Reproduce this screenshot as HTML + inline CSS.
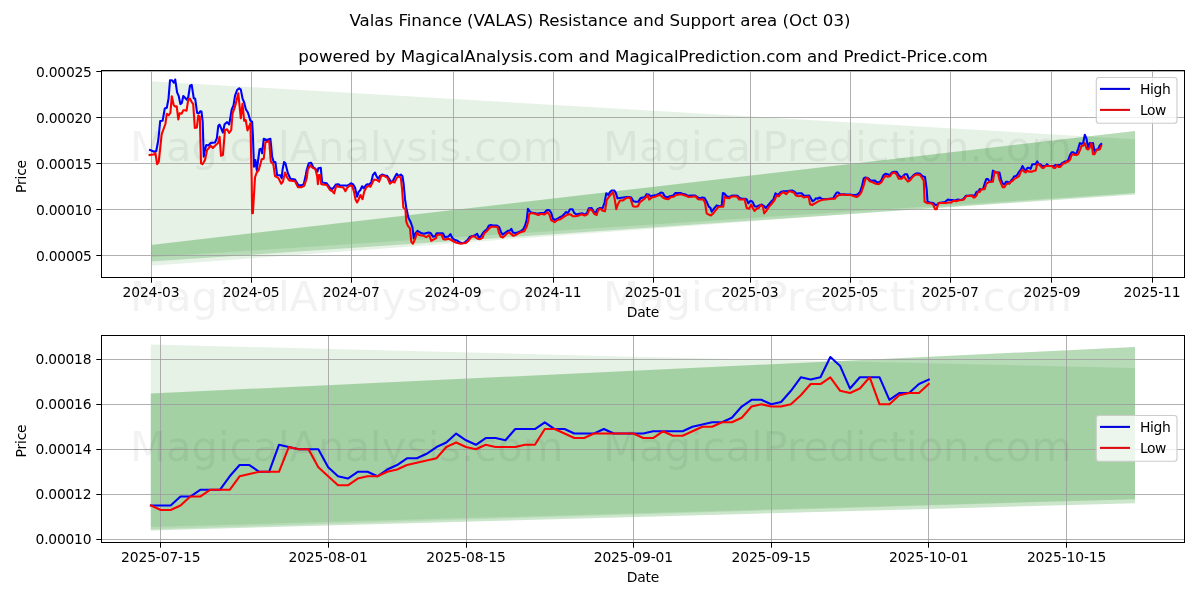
<!DOCTYPE html>
<html lang="en"><head><meta charset="utf-8"><title>Valas Finance (VALAS) Resistance and Support area</title>
<style>html,body{margin:0;padding:0;background:#fff;overflow:hidden}svg{display:block}</style></head><body>
<svg width="1200" height="600" viewBox="0 0 1200 600" font-family="'DejaVu Sans','Liberation Sans',sans-serif">
<rect width="1200" height="600" fill="#fff"/>
<g font-size="41.67" fill="#000" fill-opacity="0.052">
<text x="130.0" y="311">MagicalAnalysis.com</text>
<text x="603.1" y="311">MagicalPrediction.com</text>
</g>
<text x="600" y="25.6" font-size="16.67" text-anchor="middle" textLength="500.9">Valas Finance (VALAS) Resistance and Support area (Oct 03)</text>
<text x="643" y="61.8" font-size="16.67" text-anchor="middle" textLength="689.4">powered by MagicalAnalysis.com and MagicalPrediction.com and Predict-Price.com</text>
<clipPath id="c1"><rect x="101.5" y="70.5" width="1083.0" height="207.0"/></clipPath>
<g clip-path="url(#c1)">
<polygon points="151,81.2 1135,139.2 1135,193 151,265.7" fill="#008000" fill-opacity="0.1"/>
<polygon points="151,245 1135,131 1135,194.6 151,261.6" fill="#008000" fill-opacity="0.2"/>
<polygon points="151,245 1135,131 1135,193 151,257.2" fill="#008000" fill-opacity="0.1"/>
</g>
<g stroke="#9c9c9c" stroke-opacity="0.8" stroke-width="1" fill="none">
<line x1="151.5" y1="70.5" x2="151.5" y2="277.5"/>
<line x1="251.5" y1="70.5" x2="251.5" y2="277.5"/>
<line x1="351.5" y1="70.5" x2="351.5" y2="277.5"/>
<line x1="453.5" y1="70.5" x2="453.5" y2="277.5"/>
<line x1="553.5" y1="70.5" x2="553.5" y2="277.5"/>
<line x1="653.5" y1="70.5" x2="653.5" y2="277.5"/>
<line x1="750.5" y1="70.5" x2="750.5" y2="277.5"/>
<line x1="850.5" y1="70.5" x2="850.5" y2="277.5"/>
<line x1="950.5" y1="70.5" x2="950.5" y2="277.5"/>
<line x1="1051.5" y1="70.5" x2="1051.5" y2="277.5"/>
<line x1="1152.5" y1="70.5" x2="1152.5" y2="277.5"/>
<line x1="101.5" y1="255.5" x2="1184.5" y2="255.5"/>
<line x1="101.5" y1="209.5" x2="1184.5" y2="209.5"/>
<line x1="101.5" y1="163.5" x2="1184.5" y2="163.5"/>
<line x1="101.5" y1="117.5" x2="1184.5" y2="117.5"/>
<line x1="101.5" y1="71.5" x2="1184.5" y2="71.5"/>
</g>
<g stroke="#000" stroke-width="1">
<line x1="151.5" y1="277.5" x2="151.5" y2="282.7"/>
<line x1="251.5" y1="277.5" x2="251.5" y2="282.7"/>
<line x1="351.5" y1="277.5" x2="351.5" y2="282.7"/>
<line x1="453.5" y1="277.5" x2="453.5" y2="282.7"/>
<line x1="553.5" y1="277.5" x2="553.5" y2="282.7"/>
<line x1="653.5" y1="277.5" x2="653.5" y2="282.7"/>
<line x1="750.5" y1="277.5" x2="750.5" y2="282.7"/>
<line x1="850.5" y1="277.5" x2="850.5" y2="282.7"/>
<line x1="950.5" y1="277.5" x2="950.5" y2="282.7"/>
<line x1="1051.5" y1="277.5" x2="1051.5" y2="282.7"/>
<line x1="1152.5" y1="277.5" x2="1152.5" y2="282.7"/>
<line x1="96.3" y1="255.5" x2="101.5" y2="255.5"/>
<line x1="96.3" y1="209.5" x2="101.5" y2="209.5"/>
<line x1="96.3" y1="163.5" x2="101.5" y2="163.5"/>
<line x1="96.3" y1="117.5" x2="101.5" y2="117.5"/>
<line x1="96.3" y1="71.5" x2="101.5" y2="71.5"/>
</g>
<g clip-path="url(#c1)" fill="none" stroke-width="2.08" stroke-linejoin="round" stroke-linecap="square">
<polyline stroke="#0000ff" points="150,150 154.2,151.7 156.25,151 158.3,140 160.2,121 162.6,120.8 164.8,108.4 166.8,107.7 168.5,98.7 170,80.3 171.8,80.2 173.75,82.7 175.2,79.5 177.1,92.4 178.75,96.2 180.4,104.1 181.8,103 183.3,96 185,97.8 186.8,99.7 188.3,97 190,85.75 191.7,84.9 193.75,98.25 195.2,98.8 197.1,112.8 198.75,113.4 200.2,111.3 201.5,111.6 202.7,122 203.75,156.7 204.6,151.7 206.25,145 208.3,145.4 210.8,142.9 215,142.5 216.8,138.3 218.3,125.8 219.6,124.6 222.9,132.5 224.6,124.2 227.1,122.1 229.2,124.5 230.8,115 231.7,109.5 233.5,105.3 235,95.8 237.1,90 239.2,88.3 240.8,89.6 242.5,98.3 244.2,102.5 245.8,109.2 247.9,112.5 250.4,120.8 252.1,121.7 252.9,135 254,166.7 255.4,160 256.8,170 259.6,149.2 261.25,148.75 262.1,153.3 263.75,138.75 266.7,140 270.4,138.75 272.1,156.7 273.75,162.1 275.4,162.1 277.1,175 280.4,175.4 281.7,178.3 282.5,170 284,162.1 285.4,163.3 287.9,173.3 290.4,178.75 295,179.6 298.3,185 301.7,185.4 303.75,184.2 305.8,175 306.7,170 308.75,163.3 311.25,162.9 313.3,167.5 315.4,168.75 317.5,171.7 318.3,168.3 320.8,167.9 322.1,182.5 326.7,183.3 330,187.9 332.08,189.17 333.75,187.5 335.83,184.58 338.33,184.17 340.42,185.83 342.5,185.42 345,185.42 346.67,185.83 348.75,185 350.83,183.33 352.92,184.17 355,187.5 357.08,196.67 358.75,191.67 360.42,190 362.08,186.25 363.75,188.33 365.42,185.83 367.08,184.17 369.17,184.58 371.25,182.08 372.92,175 375,172.5 376.67,176.67 378.33,178.75 380,175.83 382.08,174.58 385,175.42 387.08,175.83 389.17,178.75 390.83,182.08 392.92,180.83 395,176.67 396.67,173.75 398.33,175.83 400.83,174.58 402.5,176.25 403.75,185 405,199.17 406.25,207.5 408.33,217.5 410.83,222.5 412.5,227.5 413.75,238.33 415.42,233.33 417.5,230.83 419.58,232.08 421.67,233.33 424.17,233.75 426.67,232.92 428.75,232.5 430.83,233.33 432.92,236.67 435,236.25 436.67,233.33 439.17,233.33 442.92,233.33 445,237.5 446.67,236.67 448.33,236.67 450.42,234.17 452.5,238.33 455,240 457.5,240.83 460,242.5 462.5,243.33 465,242.08 467.5,240 469.58,237.08 471.67,236.25 473.75,235.83 475.42,235 477.08,233.75 479.17,237.92 481.25,235.83 482.92,232.92 485,230.83 487.08,229.17 488.75,225.83 490.83,225 493.33,225.42 496.67,225.42 499.17,227.08 500.83,231.67 502.5,234.58 505,232.92 507.92,230.83 510,230.42 511.25,228.75 512.92,232.5 515,232.92 517.5,232.5 520.83,231.25 523.33,229.17 525,225.83 526.67,220 527.92,208.75 529.58,211.25 531.25,212.5 534.17,212.92 537.5,213.75 540.83,212.92 544.17,212.92 547.08,210 549.17,210 551.25,212.92 552.92,218.75 555,220 557.5,218.75 560,217.08 562.5,215.83 564.58,213.75 565.83,212.08 567.92,212.92 570,209.17 572.5,209.17 574.17,212.92 576.67,214.58 579.17,213.75 582.5,213.33 585,214.58 587.08,212.92 588.75,208.33 591.67,207.92 593.75,211.67 595.42,213.33 597.5,209.17 600,207.92 602.5,208.33 604.58,202.5 606.25,193.33 608.33,195 610,192.08 611.67,190.42 614.17,190.42 615.83,192.92 617.5,198.33 620,197.92 623.33,197.5 626.67,197.08 629.17,197.08 631.25,197.5 633.33,201.25 635.83,201.67 638.33,201.67 640.42,198.33 642.5,197.5 644.58,197.5 646.67,194.17 648.75,194.58 650.83,196.25 653.33,195.42 656.67,195 659.17,193.75 660.83,192.5 662.92,192.92 664.58,196.25 667.08,197.5 670,196.25 673.33,195.42 675.42,192.92 677.92,192.92 680.42,192.92 682.5,193.75 685.83,194.58 688.33,195.83 691.67,195.42 695,195.42 697.5,197.08 700,198.33 702.5,197.5 704.58,197.92 706.67,201.67 708.75,206.67 710.42,207.92 711.67,211.67 714.17,208.33 716.67,205.42 719.17,206.25 721.67,205.83 722.92,192.92 724.58,193.75 726.67,196.25 729.17,197.08 731.25,195.83 734.17,195.42 737.5,195.83 739.58,197.92 742.08,198.75 745,198.75 746.67,199.17 748.33,203.33 750.42,200.83 752.5,201.67 754.58,206.25 756.67,206.67 759.17,205.42 761.67,204.58 763.75,205.83 765.83,207.92 768.33,205 770.83,202.08 773.33,199.58 775.42,193.33 777.5,194.58 778.75,194.17 780.83,192.08 783.33,191.25 786.67,191.25 789.17,190.83 792.08,190.42 794.58,191.67 796.67,193.75 799.17,193.33 801.67,193.33 803.75,195.42 806.25,195.83 809.17,195.42 810.83,198.33 812.5,201.25 814.17,200.42 815.83,198.33 817.5,198.75 819.58,197.5 821.67,198.75 825,199.17 829.17,198.75 833.33,198.33 835,195 836.67,192.5 838.33,192.5 840.42,194.58 843.33,194.17 846.67,194.58 850,194.58 853.33,195 855.42,195 857.5,194.58 860,192.08 862.08,185.83 863.75,178.33 865.42,177.5 867.5,177.92 869.58,179.58 871.25,180.83 874.58,180.42 876.67,182.08 879.17,182.5 881.25,180.42 883.33,175.42 885.42,173.75 887.5,174.17 889.58,175.42 891.67,172.5 894.17,171.67 896.67,171.67 898.75,175.42 901.25,177.5 903.33,175.83 905,174.17 907.08,174.17 908.75,178.75 910.83,177.92 913.33,175.42 915.42,173.75 917.5,173.33 920,173.75 922.5,176.25 925,177.08 926.67,189.17 927.5,201.67 930,202.5 933.33,202.92 935.42,205 936.67,205 938.75,202.92 941.67,202.5 945,202.08 947.92,199.58 950,200 952.5,200 955,200.42 957.92,199.58 960.83,200 963.33,199.17 965.83,195.83 971.57,195.53 973.21,195.53 974.85,195.53 976.49,191.85 978.13,191.85 979.78,189.09 981.42,189.09 983.06,189.09 984.7,183.56 986.34,178.96 987.98,178.96 989.62,181.72 991.26,181.72 992.9,170.67 994.54,171.59 996.18,172.51 997.83,172.51 999.47,172.51 1001.11,179.88 1002.75,183.56 1004.39,184.48 1006.03,181.72 1007.67,181.72 1009.31,183.56 1010.95,180.8 1012.6,178.96 1014.24,176.19 1015.88,176.19 1017.52,174.35 1019.16,171.59 1020.8,169.75 1022.44,166.06 1024.08,168.83 1025.72,170.67 1027.36,167.91 1029.01,167.91 1030.65,168.83 1032.29,164.22 1033.93,164.22 1035.57,164.22 1037.21,161.46 1038.85,164.22 1040.49,164.22 1042.13,166.06 1043.77,166.06 1045.41,166.06 1047.06,164.22 1048.7,166.06 1050.34,166.06 1051.98,166.06 1053.62,166.06 1055.26,165.14 1056.9,165.14 1058.54,165.14 1060.18,165.14 1061.83,163.3 1063.47,162.38 1065.11,161.46 1066.75,161.46 1068.39,159.62 1070.03,155.01 1071.67,152.25 1073.31,152.25 1074.95,154.09 1076.59,153.17 1078.23,148.56 1079.88,143.04 1081.52,143.96 1083.16,143.04 1084.8,134.75 1086.44,138.43 1088.08,147.64 1089.72,143.04 1091.36,143.04 1093,143.04 1094.64,152.25 1096.29,149.49 1097.93,149.49 1099.57,145.8 1101.21,143.96"/>
<polyline stroke="#ff0000" points="149.6,155 154.6,154.2 155.4,152.9 157.1,164.2 158.75,161.7 161.7,134.2 165.4,124 166.8,113.7 168.75,115.3 170.4,112.8 171.8,96.2 173.75,105.3 175.4,106.6 176.7,106.2 178.3,119.5 179.6,113.25 181.7,113.7 183.2,110.3 184.8,110.3 186.5,110.75 188.3,99.5 190,98.7 191.7,102 193.2,104.1 194.8,127.9 196.8,127.5 198.3,115.5 199.8,116.5 201,163.3 202.5,164.2 205,160 207.1,150 210.8,145.8 212.9,147.9 215.8,145 217.9,143.3 219.6,136.7 221,155.8 222.9,155 225,130 227.1,129.2 229.2,132.9 231.25,130 232.5,113.7 235,106.7 238.3,93.3 240.8,118.3 242.5,103.75 244.2,120.8 245.7,120 247.5,130.4 250.4,123.3 251.7,180 252.1,213.3 252.9,213.3 255,177.5 256.7,172.5 258.75,170 261.7,159.2 263.75,158.75 265.4,142.5 269.2,140.8 270.8,161.7 273.3,164.2 275,176 278.3,177.9 281.25,183.75 282.9,181.7 285,172.5 287.1,177.5 289.2,180.4 295,181.25 297.9,187.1 301.7,187.1 304.2,185.8 306.7,178.3 307.9,169.2 310.4,165.4 312.9,167.9 315.4,169.2 317.1,176 317.9,184.2 318.75,175 320,175 321.25,184.2 326.7,185 330,190 332.5,191.25 334.17,193.33 336.25,185.83 338.33,186.67 340.42,187.08 343.33,187.5 345.42,191.25 347.08,187.92 349.58,185.42 352.08,185.83 353.75,190.83 355.42,199.17 357.08,202.5 358.75,199.17 360.42,195 362.5,199.17 364.17,191.67 366.25,187.5 368.33,185.83 370.42,186.67 372.5,182.5 374.17,179.58 376.67,180 379.17,181.67 381.25,175.83 383.33,175.42 385.42,176.67 387.5,177.92 390,183.75 392.5,181.67 394.58,182.5 396.67,177.92 399.17,176.25 400.83,177.92 402.08,189.17 403.33,207.5 405.42,209.17 406.25,221.67 407.92,225.83 410,228.33 411.25,241.67 412.92,243.75 415,239.17 417.08,232.92 419.17,235 421.67,235.42 423.75,235.83 426.25,237.08 429.17,235 431.25,240.83 433.33,239.58 435.83,238.33 437.08,235 439.17,234.58 441.67,235 443.33,239.17 445.83,239.58 448.33,238.75 450.42,239.58 453.33,241.25 455.83,242.5 458.33,243.33 460.83,243.75 463.33,243.33 465.83,242.92 468.33,240.83 470.42,237.92 472.5,236.25 475,236.67 477.5,238.75 480,239.17 482.5,237.92 484.17,233.33 486.67,231.25 489.17,228.33 491.25,226.67 494.17,226.67 497.5,227.08 499.17,233.33 500.83,236.67 502.92,237.5 505,235.42 507.5,232.92 509.58,232.5 511.25,234.17 513.33,235.83 515.83,235 518.33,233.33 521.25,232.08 524.17,231.25 526.67,226.67 528.33,220.83 529.17,214.17 531.67,212.92 535,213.75 538.33,215 541.25,213.75 544.17,214.58 547.5,212.08 549.58,215 551.25,220.42 554.58,222.08 557.5,220 560.42,219.17 563.33,217.08 566.25,215.42 568.75,214.17 570.83,214.58 572.92,216.25 575.83,216.25 578.75,215.42 581.67,214.17 584.58,215.42 587.5,214.17 589.58,209.17 591.67,210 594.17,213.75 596.67,215 598.33,210 600.42,208.75 602.92,210.83 605,211.25 606.67,200 608.75,197.08 610.83,194.58 612.92,192.08 614.58,198.33 616.25,209.17 617.92,204.17 620,200.42 622.92,200.42 625.83,198.33 628.33,197.5 630.42,198.33 632.92,206.25 635.42,206.67 637.92,206.25 640,202.08 643.33,199.58 645.83,197.5 647.5,195 649.17,199.58 651.67,197.5 655,196.67 657.92,195.42 660.42,195 662.92,197.5 665.42,198.75 668.33,199.17 670.83,197.08 673.75,196.67 676.25,195 679.17,194.58 682.08,194.58 685.83,195.83 688.75,197.08 692.08,196.67 695.42,196.25 697.92,199.17 700.42,199.58 702.92,199.17 705,202.5 706.67,213.33 708.75,214.58 710.83,215.42 713.33,213.33 715.83,210 718.33,207.08 720.83,206.67 723.33,206.67 724.58,196.67 726.67,197.92 729.17,198.33 731.25,196.67 734.58,196.25 737.08,196.67 739.17,199.58 742.08,199.58 744.58,199.17 746.67,207.92 749.17,208.75 751.25,204.58 752.92,208.33 754.58,210.83 756.67,208.75 758.75,207.92 760.83,205 762.92,206.67 764.17,213.33 766.25,210.83 768.75,207.08 771.67,203.75 774.58,200 776.67,195.42 778.75,196.25 780.83,193.75 783.33,192.08 786.25,194.17 788.75,191.25 791.67,191.67 793.75,192.5 795.83,195.42 798.75,196.25 801.25,195.83 803.75,197.5 806.67,196.67 808.75,197.08 810,204.17 812.08,205 815,203.33 817.92,201.67 820.42,200.42 824.17,199.58 828.33,199.17 832.5,198.75 835,198.75 836.67,196.25 839.17,195 842.5,194.58 846.67,195 850.83,195 854.17,196.25 856.67,197.08 859.17,195.42 861.25,192.5 863.33,186.67 865.42,179.17 867.08,177.92 869.58,181.25 872.08,182.08 875.83,183.75 878.75,184.17 881.25,182.5 883.33,178.75 885.42,175.83 887.92,176.67 890,176.25 892.08,173.33 894.58,172.5 896.67,174.58 898.75,178.75 901.67,178.75 903.75,176.25 905.83,179.17 907.92,181.67 910,180.42 912.5,177.08 915,175 917.5,174.58 920,175 922.08,177.92 923.75,180.83 924.58,201.67 927.5,203.33 930.83,203.33 932.92,204.17 935,209.17 936.67,209.17 938.33,203.33 941.67,202.92 945.42,202.92 948.75,202.5 951.25,202.5 953.33,200.83 956.25,201.25 958.33,200.42 961.25,200 963.75,199.58 966.25,196.25 971.57,195.53 973.21,197.38 974.85,197.38 976.49,195.53 978.13,191.85 979.78,191.85 981.42,189.09 983.06,189.09 984.7,189.09 986.34,183.56 987.98,182.64 989.62,181.72 991.26,181.72 992.9,181.72 994.54,171.59 996.18,172.51 997.83,172.51 999.47,179.88 1001.11,183.56 1002.75,187.25 1004.39,187.25 1006.03,184.48 1007.67,183.56 1009.31,183.56 1010.95,181.72 1012.6,180.8 1014.24,178.96 1015.88,178.04 1017.52,177.12 1019.16,176.19 1020.8,171.59 1022.44,169.75 1024.08,171.59 1025.72,172.51 1027.36,170.67 1029.01,171.59 1030.65,171.59 1032.29,171.59 1033.93,170.67 1035.57,170.67 1037.21,164.22 1038.85,164.22 1040.49,166.06 1042.13,167.91 1043.77,167.91 1045.41,166.06 1047.06,166.06 1048.7,166.06 1050.34,166.06 1051.98,166.06 1053.62,167.91 1055.26,167.91 1056.9,165.14 1058.54,166.98 1060.18,166.98 1061.83,165.14 1063.47,163.3 1065.11,163.3 1066.75,161.46 1068.39,161.46 1070.03,159.62 1071.67,155.01 1073.31,154.09 1074.95,155.01 1076.59,155.01 1078.23,154.09 1079.88,150.41 1081.52,145.8 1083.16,145.8 1084.8,143.04 1086.44,148.56 1088.08,149.49 1089.72,147.64 1091.36,143.04 1093,154.09 1094.64,154.09 1096.29,150.41 1097.93,149.49 1099.57,149.49 1101.21,145.8"/>
</g>
<g font-size="41.67" fill="#000" fill-opacity="0.052">
<text x="130.0" y="161">MagicalAnalysis.com</text>
<text x="603.1" y="161">MagicalPrediction.com</text>
</g>
<rect x="101.5" y="70.5" width="1083.0" height="207" fill="none" stroke="#000" stroke-width="1"/>
<g font-size="13.89" fill="#000">
<g text-anchor="middle">
<text x="151.07" y="297.4" textLength="57">2024-03</text>
<text x="251.17" y="297.4" textLength="57">2024-05</text>
<text x="351.27" y="297.4" textLength="57">2024-07</text>
<text x="453.01" y="297.4" textLength="57">2024-09</text>
<text x="553.12" y="297.4" textLength="57">2024-11</text>
<text x="653.22" y="297.4" textLength="57">2025-01</text>
<text x="750.04" y="297.4" textLength="57">2025-03</text>
<text x="850.14" y="297.4" textLength="57">2025-05</text>
<text x="950.24" y="297.4" textLength="57">2025-07</text>
<text x="1051.98" y="297.4" textLength="57">2025-09</text>
<text x="1152.08" y="297.4" textLength="57">2025-11</text>
</g><g text-anchor="end">
<text x="91.9" y="260.7" textLength="55.9">0.00005</text>
<text x="91.9" y="214.65" textLength="55.9">0.00010</text>
<text x="91.9" y="168.6" textLength="55.9">0.00015</text>
<text x="91.9" y="122.55" textLength="55.9">0.00020</text>
<text x="91.9" y="76.5" textLength="55.9">0.00025</text>
</g>
<text x="643" y="317.1" text-anchor="middle" textLength="32.6">Date</text>
<text transform="translate(26.3,176.4) rotate(-90)" text-anchor="middle" textLength="33">Price</text>
</g>
<rect x="1096.3" y="77.5" width="80.7" height="45.8" rx="2.8" fill="#fff" fill-opacity="0.8" stroke="#ccc" stroke-width="1.11"/>
<line x1="1100" y1="88.9" x2="1130" y2="88.9" stroke="#0000dc" stroke-width="2.08"/>
<line x1="1100" y1="109.9" x2="1130" y2="109.9" stroke="#dc0a0e" stroke-width="2.08"/>
<text x="1139.9" y="93.7" font-size="13.89" textLength="31">High</text>
<text x="1139.9" y="114.7" font-size="13.89" textLength="26.5">Low</text>
<clipPath id="c2"><rect x="101.5" y="335.5" width="1083.0" height="207.0"/></clipPath>
<g clip-path="url(#c2)">
<polygon points="150.8,344.5 632,356.7 1135,367.9 1135,499.2 150.8,529.2" fill="#008000" fill-opacity="0.1"/>
<polygon points="150.8,393.5 1135,347.1 1135,503.3 150.8,530.4" fill="#008000" fill-opacity="0.2"/>
<polygon points="150.8,393.5 1135,347.1 1135,499.2 150.8,527" fill="#008000" fill-opacity="0.1"/>
</g>
<g stroke="#9c9c9c" stroke-opacity="0.8" stroke-width="1" fill="none">
<line x1="160.5" y1="335.5" x2="160.5" y2="542.5"/>
<line x1="328.5" y1="335.5" x2="328.5" y2="542.5"/>
<line x1="466.5" y1="335.5" x2="466.5" y2="542.5"/>
<line x1="633.5" y1="335.5" x2="633.5" y2="542.5"/>
<line x1="771.5" y1="335.5" x2="771.5" y2="542.5"/>
<line x1="928.5" y1="335.5" x2="928.5" y2="542.5"/>
<line x1="1066.5" y1="335.5" x2="1066.5" y2="542.5"/>
<line x1="101.5" y1="539.5" x2="1184.5" y2="539.5"/>
<line x1="101.5" y1="494.5" x2="1184.5" y2="494.5"/>
<line x1="101.5" y1="449.5" x2="1184.5" y2="449.5"/>
<line x1="101.5" y1="404.5" x2="1184.5" y2="404.5"/>
<line x1="101.5" y1="359.5" x2="1184.5" y2="359.5"/>
</g>
<g stroke="#000" stroke-width="1">
<line x1="160.5" y1="542.5" x2="160.5" y2="547.7"/>
<line x1="328.5" y1="542.5" x2="328.5" y2="547.7"/>
<line x1="466.5" y1="542.5" x2="466.5" y2="547.7"/>
<line x1="633.5" y1="542.5" x2="633.5" y2="547.7"/>
<line x1="771.5" y1="542.5" x2="771.5" y2="547.7"/>
<line x1="928.5" y1="542.5" x2="928.5" y2="547.7"/>
<line x1="1066.5" y1="542.5" x2="1066.5" y2="547.7"/>
<line x1="96.3" y1="539.5" x2="101.5" y2="539.5"/>
<line x1="96.3" y1="494.5" x2="101.5" y2="494.5"/>
<line x1="96.3" y1="449.5" x2="101.5" y2="449.5"/>
<line x1="96.3" y1="404.5" x2="101.5" y2="404.5"/>
<line x1="96.3" y1="359.5" x2="101.5" y2="359.5"/>
</g>
<g clip-path="url(#c2)" fill="none" stroke-width="2.08" stroke-linejoin="round" stroke-linecap="square">
<polyline stroke="#0000ff" points="150.95,505.55 160.8,505.55 170.65,505.55 180.49,496.55 190.34,496.55 200.18,489.8 210.03,489.8 219.88,489.8 229.72,476.3 239.57,465.05 249.41,465.05 259.26,471.8 269.11,471.8 278.95,444.8 288.8,447.05 298.64,449.3 308.49,449.3 318.34,449.3 328.18,467.3 338.03,476.3 347.87,478.55 357.72,471.8 367.57,471.8 377.41,476.3 387.26,469.55 397.1,465.05 406.95,458.3 416.8,458.3 426.64,453.8 436.49,447.05 446.33,442.55 456.18,433.55 466.03,440.3 475.87,444.8 485.72,438.05 495.56,438.05 505.41,440.3 515.26,429.05 525.1,429.05 534.95,429.05 544.79,422.3 554.64,429.05 564.49,429.05 574.33,433.55 584.18,433.55 594.02,433.55 603.87,429.05 613.72,433.55 623.56,433.55 633.41,433.55 643.25,433.55 653.1,431.3 662.95,431.3 672.79,431.3 682.64,431.3 692.48,426.8 702.33,424.55 712.18,422.3 722.02,422.3 731.87,417.8 741.71,406.55 751.56,399.8 761.41,399.8 771.25,404.3 781.1,402.05 790.94,390.8 800.79,377.3 810.64,379.55 820.48,377.3 830.33,357.05 840.17,366.05 850.02,388.55 859.87,377.3 869.71,377.3 879.56,377.3 889.4,399.8 899.25,393.05 909.1,393.05 918.94,384.05 928.79,379.55"/>
<polyline stroke="#ff0000" points="150.95,505.55 160.8,510.05 170.65,510.05 180.49,505.55 190.34,496.55 200.18,496.55 210.03,489.8 219.88,489.8 229.72,489.8 239.57,476.3 249.41,474.05 259.26,471.8 269.11,471.8 278.95,471.8 288.8,447.05 298.64,449.3 308.49,449.3 318.34,467.3 328.18,476.3 338.03,485.3 347.87,485.3 357.72,478.55 367.57,476.3 377.41,476.3 387.26,471.8 397.1,469.55 406.95,465.05 416.8,462.8 426.64,460.55 436.49,458.3 446.33,447.05 456.18,442.55 466.03,447.05 475.87,449.3 485.72,444.8 495.56,447.05 505.41,447.05 515.26,447.05 525.1,444.8 534.95,444.8 544.79,429.05 554.64,429.05 564.49,433.55 574.33,438.05 584.18,438.05 594.02,433.55 603.87,433.55 613.72,433.55 623.56,433.55 633.41,433.55 643.25,438.05 653.1,438.05 662.95,431.3 672.79,435.8 682.64,435.8 692.48,431.3 702.33,426.8 712.18,426.8 722.02,422.3 731.87,422.3 741.71,417.8 751.56,406.55 761.41,404.3 771.25,406.55 781.1,406.55 790.94,404.3 800.79,395.3 810.64,384.05 820.48,384.05 830.33,377.3 840.17,390.8 850.02,393.05 859.87,388.55 869.71,377.3 879.56,404.3 889.4,404.3 899.25,395.3 909.1,393.05 918.94,393.05 928.79,384.05"/>
</g>
<g font-size="41.67" fill="#000" fill-opacity="0.052">
<text x="130.0" y="461">MagicalAnalysis.com</text>
<text x="603.1" y="461">MagicalPrediction.com</text>
</g>
<rect x="101.5" y="335.5" width="1083.0" height="207" fill="none" stroke="#000" stroke-width="1"/>
<g font-size="13.89" fill="#000">
<g text-anchor="middle">
<text x="160.8" y="561.7" textLength="79.4">2025-07-15</text>
<text x="328.18" y="561.7" textLength="79.4">2025-08-01</text>
<text x="466.03" y="561.7" textLength="79.4">2025-08-15</text>
<text x="633.41" y="561.7" textLength="79.4">2025-09-01</text>
<text x="771.25" y="561.7" textLength="79.4">2025-09-15</text>
<text x="928.79" y="561.7" textLength="79.4">2025-10-01</text>
<text x="1066.63" y="561.7" textLength="79.4">2025-10-15</text>
</g><g text-anchor="end">
<text x="91.5" y="543.8" textLength="55.9">0.00010</text>
<text x="91.5" y="498.8" textLength="55.9">0.00012</text>
<text x="91.5" y="453.8" textLength="55.9">0.00014</text>
<text x="91.5" y="408.8" textLength="55.9">0.00016</text>
<text x="91.5" y="363.8" textLength="55.9">0.00018</text>
</g>
<text x="643" y="582.1" text-anchor="middle" textLength="32.6">Date</text>
<text transform="translate(26.3,440.9) rotate(-90)" text-anchor="middle" textLength="33">Price</text>
</g>
<rect x="1096.3" y="415.5" width="80.7" height="45.8" rx="2.8" fill="#fff" fill-opacity="0.8" stroke="#ccc" stroke-width="1.11"/>
<line x1="1100" y1="426.9" x2="1130" y2="426.9" stroke="#0000dc" stroke-width="2.08"/>
<line x1="1100" y1="447.9" x2="1130" y2="447.9" stroke="#dc0a0e" stroke-width="2.08"/>
<text x="1139.9" y="431.7" font-size="13.89" textLength="31">High</text>
<text x="1139.9" y="452.7" font-size="13.89" textLength="26.5">Low</text>
</svg></body></html>
